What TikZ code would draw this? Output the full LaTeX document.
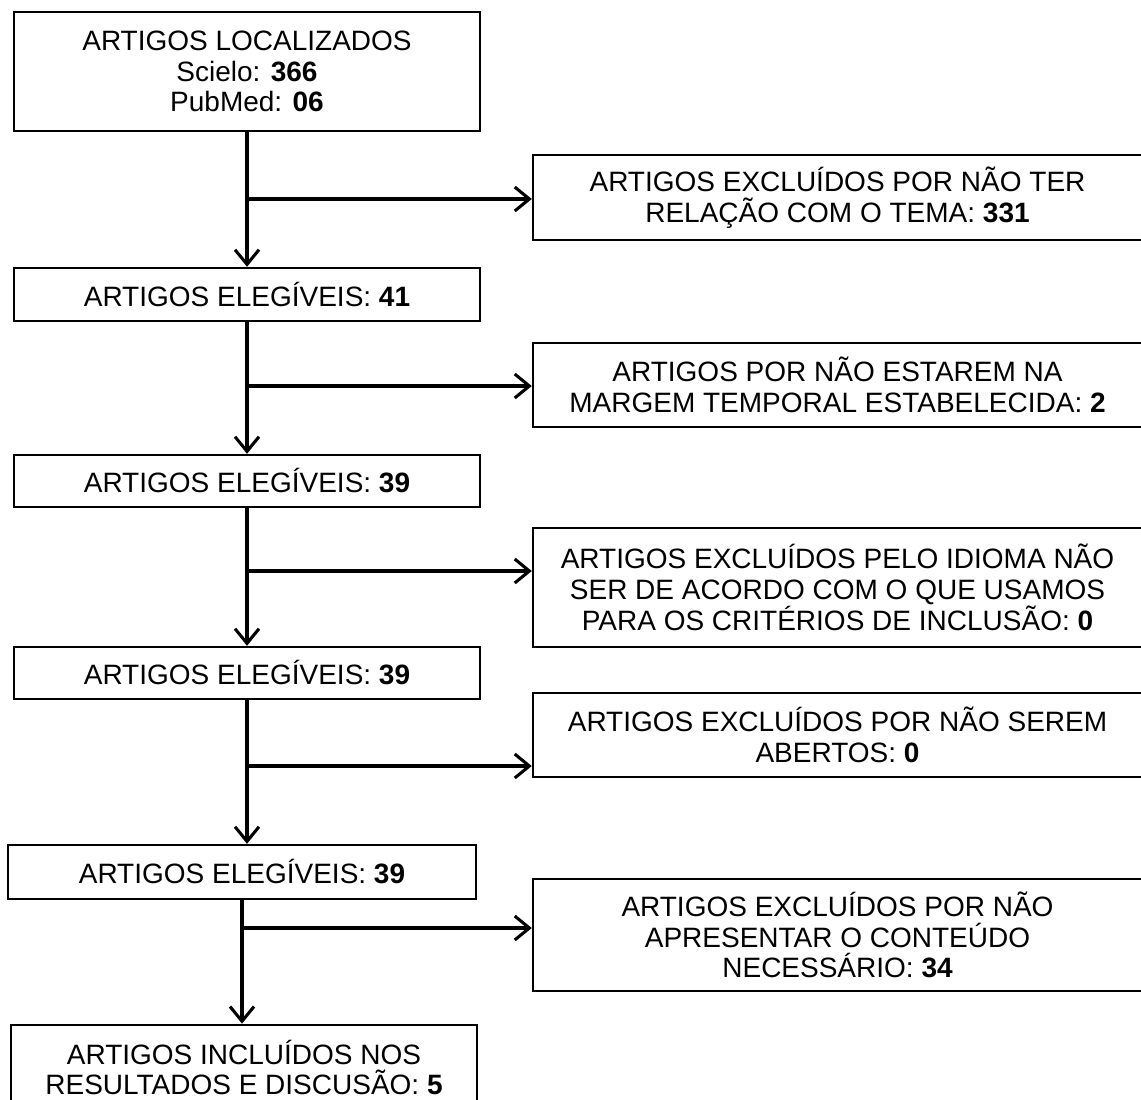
\documentclass[tikz,border=0pt]{standalone}
\usepackage{fontspec}
\setmainfont{Liberation Sans}
\usetikzlibrary{arrows.meta,positioning}

\tikzset{
  stage/.style={draw, line width=1.8pt, align=center, inner sep=0pt, minimum width=349.5pt},
  excl/.style={draw, line width=1.8pt, align=center, inner sep=0pt, minimum width=456.75pt},
  flow/.style={line width=2.3pt, -{Straight Barb[length=11pt,width=18pt]}}
}

\begin{document}
\begin{tikzpicture}[x=0.75pt, y=-0.75pt, font=\fontsize{21}{23}\selectfont]
    \useasboundingbox (0,0) rectangle (1141,1099);
    % left column
    \node[stage, minimum height=89.25pt] (loc) at (247,71.5) {ARTIGOS LOCALIZADOS\\Scielo: \textbf{366}\\PubMed: \textbf{06}};
    \node[stage, minimum height=39.75pt] (el1) at (247,294.5) {ARTIGOS ELEG\'IVEIS: \textbf{41}};
    \node[stage, minimum height=39pt] (el2) at (247,481) {ARTIGOS ELEG\'IVEIS: \textbf{39}};
    \node[stage, minimum height=39pt] (el3) at (247,673) {ARTIGOS ELEG\'IVEIS: \textbf{39}};
    \node[stage, minimum height=40.5pt, minimum width=351pt] (el4) at (242,872) {ARTIGOS ELEG\'IVEIS: \textbf{39}};
    \node[stage, minimum height=64pt] (inc) at (244,1067.5) {ARTIGOS INCLU\'IDOS NOS\\RESULTADOS E DISCUS\~AO: \textbf{5}};
    % right column
    \node[excl, minimum height=63.75pt] (ex1) at (837.5,197.5) {ARTIGOS EXCLU\'IDOS POR N\~AO TER\\RELA\c{C}\~AO COM O TEMA: \textbf{331}};
    \node[excl, minimum height=63pt] (ex2) at (837.5,385) {ARTIGOS POR N\~AO ESTAREM NA\\MARGEM TEMPORAL ESTABELECIDA: \textbf{2}};
    \node[excl, minimum height=89.25pt] (ex3) at (837.5,587.5) {ARTIGOS EXCLU\'IDOS PELO IDIOMA N\~AO\\SER DE ACORDO COM O QUE USAMOS\\PARA OS CRIT\'ERIOS DE INCLUS\~AO: \textbf{0}};
    \node[excl, minimum height=63pt] (ex4) at (837.5,735) {ARTIGOS EXCLU\'IDOS POR N\~AO SEREM\\ABERTOS: \textbf{0}};
    \node[excl, minimum height=84pt] (ex5) at (837.5,935) {ARTIGOS EXCLU\'IDOS POR N\~AO\\APRESENTAR O CONTE\'UDO\\NECESS\'ARIO: \textbf{34}};
    % branch points
    \coordinate (j1) at (loc.south |- 0,199);
    \coordinate (j2) at (el1.south |- 0,386);
    \coordinate (j3) at (el2.south |- 0,571);
    \coordinate (j4) at (el3.south |- 0,766);
    \coordinate (j5) at (el4.south |- 0,928);
    % connectors
    \draw[flow] (loc.south) -- (loc.south |- el1.north);
    \draw[flow] (el1.south) -- (el1.south |- el2.north);
    \draw[flow] (el2.south) -- (el2.south |- el3.north);
    \draw[flow] (el3.south) -- (el3.south |- el4.north);
    \draw[flow] (el4.south) -- (el4.south |- inc.north);
    \draw[flow] (j1) -- (j1 -| ex1.west);
    \draw[flow] (j2) -- (j2 -| ex2.west);
    \draw[flow] (j3) -- (j3 -| ex3.west);
    \draw[flow] (j4) -- (j4 -| ex4.west);
    \draw[flow] (j5) -- (j5 -| ex5.west);
\end{tikzpicture}
\end{document}
